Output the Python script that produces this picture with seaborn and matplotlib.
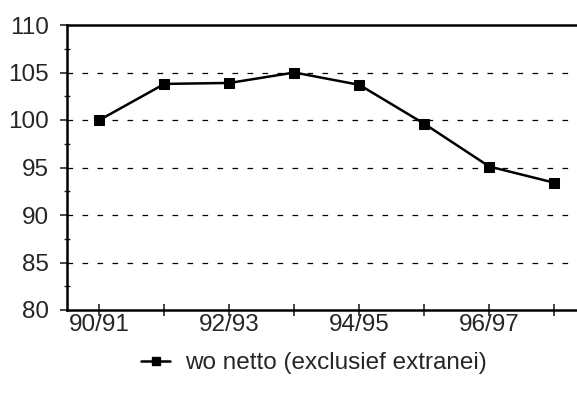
import matplotlib
matplotlib.use("Agg")
import matplotlib.pyplot as plt
from matplotlib.ticker import MultipleLocator
from matplotlib.lines import Line2D
import seaborn as sns
import pandas as pd

years = ["90/91", "91/92", "92/93", "93/94", "94/95", "95/96", "96/97", "97/98"]
values = [100.0, 103.8, 103.9, 105.0, 103.7, 99.6, 95.1, 93.4]
series_label = "wo netto (exclusief extranei)"
y_ticks = [80, 85, 90, 95, 100, 105, 110]

sns.set_style("white")
plt.rcParams["font.family"] = ["Liberation Sans", "DejaVu Sans"]

df = pd.DataFrame({"pos": range(len(years)), "value": values})

fig = plt.figure(figsize=(5.77, 3.94), dpi=100)
ax = fig.add_axes([67 / 577, 1 - 310 / 394, 1 - 67 / 577, 285 / 394])

sns.lineplot(data=df, x="pos", y="value", marker="s", color="black",
             linewidth=1.8, markersize=7, markeredgecolor="black",
             sort=False, ax=ax, legend=False)

ax.set_xlim(-0.5, 7.35)
ax.set_ylim(80, 110)
ax.set_yticks(y_ticks)
ax.yaxis.set_minor_locator(MultipleLocator(2.5))
ax.set_xticks(range(len(years)))
ax.set_xticklabels([y if i % 2 == 0 else "" for i, y in enumerate(years)])
ax.set_xlabel("")
ax.set_ylabel("")

# dashed reference lines between the bottom and top spines
for v in y_ticks[1:-1]:
    ax.axhline(v, color="black", linestyle=(0, (4.5, 7.5)), linewidth=0.9, zorder=0)

for side in ["left", "bottom", "top"]:
    ax.spines[side].set_visible(True)
    ax.spines[side].set_color("black")
    ax.spines[side].set_linewidth(1.8)
ax.spines["right"].set_visible(False)

ax.tick_params(axis="y", which="major", direction="out", length=5, width=1.2,
               labelsize=17.5, pad=8, left=True)
ax.tick_params(axis="y", which="minor", direction="inout", length=4, width=1, left=True)
ax.tick_params(axis="x", which="major", direction="inout", length=8, width=1.2,
               labelsize=17.5, pad=-1, bottom=True)

handle = Line2D([], [], color="black", marker="s", linewidth=1.8, markersize=6)
fig.legend([handle], [series_label], loc="center",
           bbox_to_anchor=(314 / 577, 1 - 363 / 394),
           frameon=False, fontsize=17.5, handlelength=1.2, handletextpad=0.6)

fig.savefig("out.png", dpi=100)
